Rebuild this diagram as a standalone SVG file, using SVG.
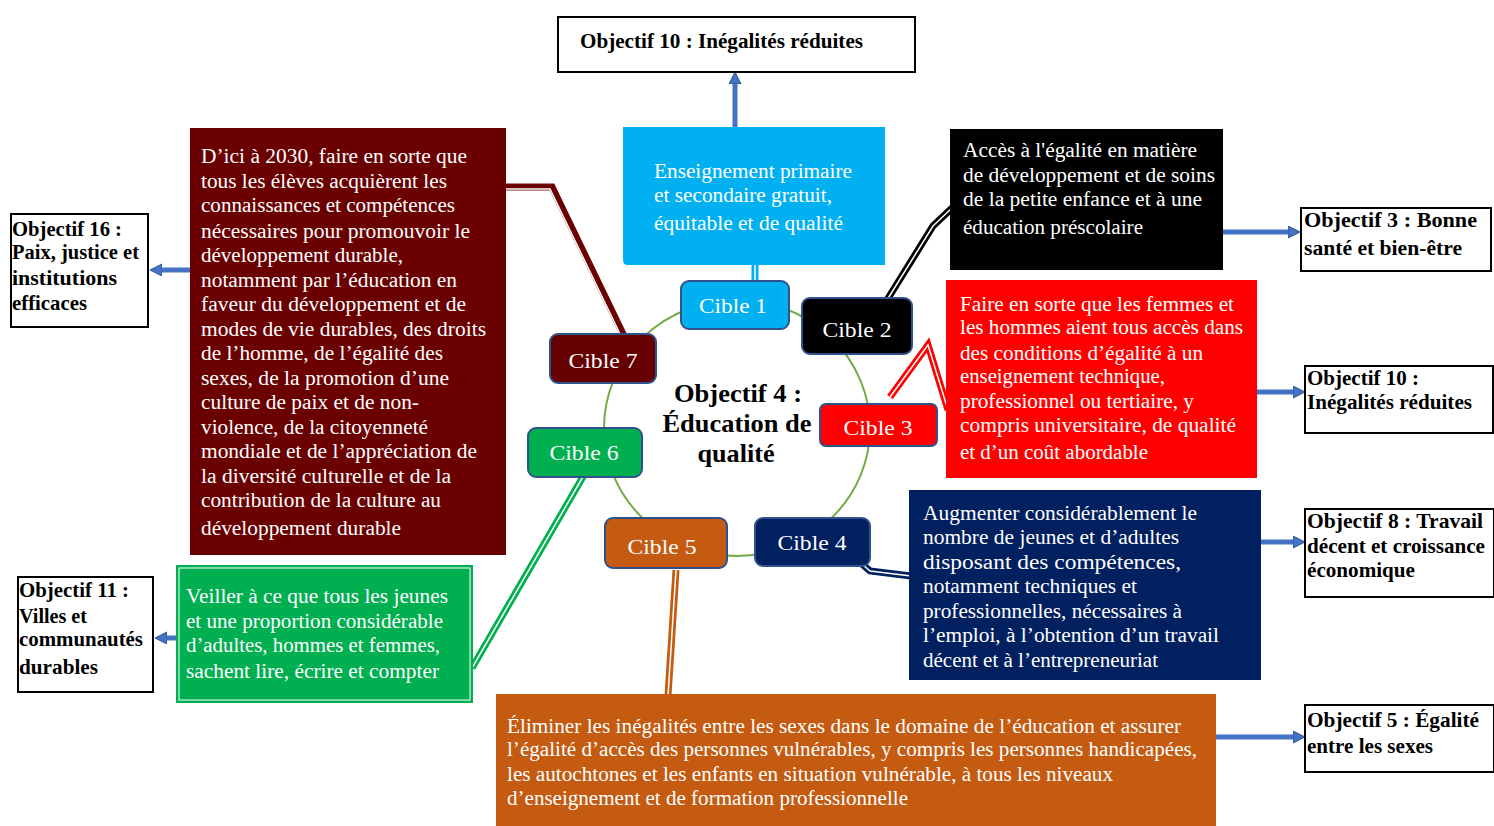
<svg xmlns="http://www.w3.org/2000/svg" width="1494" height="826" viewBox="0 0 1494 826">
<defs>
<marker id="ah" markerUnits="userSpaceOnUse" markerWidth="14" markerHeight="14" refX="2" refY="6" orient="auto">
<path d="M0,0 L12,6 L0,12 z" fill="#4472C4" stroke="#2F528F" stroke-width="1"/>
</marker>
<style>
text{font-family:"Liberation Serif","Times New Roman",serif}
.t{font-size:20px;fill:#fff}
.b{font-size:21px;font-weight:bold;fill:#000}
.c{font-size:22px;fill:#fff;text-anchor:middle}
.ctr{font-size:26px;font-weight:bold;fill:#000;text-anchor:middle}
.obj{fill:#fff;stroke:#000;stroke-width:2}
.cib{stroke:#2F528F;stroke-width:2}
.arr{stroke:#4472C4;stroke-width:5;fill:none;marker-end:url(#ah)}
.dw{fill:none;stroke:#fff;stroke-width:1.5}
</style>
</defs>
<rect width="1494" height="826" fill="#fff"/>

<ellipse cx="737" cy="428" rx="133" ry="128" fill="none" stroke="#70AD47" stroke-width="2"/>

<g id="connectors">
<line class="arr" x1="735" y1="127" x2="735" y2="82"/>
<line class="arr" x1="1223" y1="232" x2="1290" y2="232"/>
<line class="arr" x1="1257" y1="392" x2="1295" y2="392"/>
<line class="arr" x1="1261" y1="542" x2="1295" y2="542"/>
<line class="arr" x1="1216" y1="737" x2="1295" y2="737"/>
<line class="arr" x1="176" y1="638" x2="165" y2="638"/>
<line class="arr" x1="190" y1="270" x2="160" y2="270"/>

<path d="M755,262 L755,284" fill="none" stroke="#00B0F0" stroke-width="7"/>
<path class="dw" d="M755,262 L755,284"/>

<path d="M887,300 L933,226 L952,208" fill="none" stroke="#000" stroke-width="7"/>
<path class="dw" d="M887,300 L933,226 L952,208"/>

<path d="M890,397 L928,345 L948,410" fill="none" stroke="#FF0000" stroke-width="7"/>
<path class="dw" d="M890,397 L928,345 L948,410"/>

<path d="M862,564 L870,571 L911,576" fill="none" stroke="#002060" stroke-width="7"/>
<path class="dw" d="M862,564 L870,571 L911,576"/>

<path d="M676,570 L668,696" fill="none" stroke="#C55A11" stroke-width="7"/>
<path class="dw" d="M676,570 L668,696"/>

<path d="M584,475 L472,668" fill="none" stroke="#00B050" stroke-width="7"/>
<path class="dw" d="M584,475 L472,668"/>

<path d="M504,187 L552,187 L624,336" fill="none" stroke="#6B0000" stroke-width="7"/>
<path class="dw" d="M504,189 L550,189 L621,336"/>
</g>

<g id="obj10top">
<rect class="obj" x="558" y="17" width="357" height="55"/>
<text class="b" x="580" y="48" textLength="283" lengthAdjust="spacingAndGlyphs">Objectif 10 : Inégalités réduites</text>
</g>

<g id="cible1text">
<path d="M623,127 H885 V265 H628 Q623,265 623,260 Z" fill="#00B0F0"/>
<text class="t" x="654" y="178" textLength="198" lengthAdjust="spacingAndGlyphs">Enseignement primaire</text>
<text class="t" x="654" y="202" textLength="178" lengthAdjust="spacingAndGlyphs">et secondaire gratuit,</text>
<text class="t" x="654" y="230" textLength="189" lengthAdjust="spacingAndGlyphs">équitable et de qualité</text>
</g>

<g id="cible2text">
<rect x="950" y="129" width="273" height="141" fill="#000"/>
<text class="t" x="963" y="157" textLength="234" lengthAdjust="spacingAndGlyphs">Accès  à l'égalité en matière</text>
<text class="t" x="963" y="182" textLength="252" lengthAdjust="spacingAndGlyphs">de développement  et de soins</text>
<text class="t" x="963" y="206" textLength="239" lengthAdjust="spacingAndGlyphs">de la petite enfance  et à une</text>
<text class="t" x="963" y="234" textLength="180" lengthAdjust="spacingAndGlyphs">éducation préscolaire</text>
</g>

<g id="obj3">
<rect class="obj" x="1301" y="208" width="190" height="63"/>
<text class="b" x="1304" y="227" textLength="173" lengthAdjust="spacingAndGlyphs">Objectif 3 : Bonne</text>
<text class="b" x="1304" y="255" textLength="158" lengthAdjust="spacingAndGlyphs">santé et bien-être</text>
</g>

<g id="cible3text">
<rect x="946" y="280" width="311" height="198" fill="#FF0000"/>
<text class="t" x="960" y="311" textLength="274" lengthAdjust="spacingAndGlyphs">Faire en sorte que les femmes  et</text>
<text class="t" x="960" y="334" textLength="283" lengthAdjust="spacingAndGlyphs">les hommes aient tous accès  dans</text>
<text class="t" x="960" y="360" textLength="243" lengthAdjust="spacingAndGlyphs">des conditions d’égalité à un</text>
<text class="t" x="960" y="383" textLength="205" lengthAdjust="spacingAndGlyphs">enseignement technique,</text>
<text class="t" x="960" y="408" textLength="234" lengthAdjust="spacingAndGlyphs">professionnel  ou tertiaire,  y</text>
<text class="t" x="960" y="432" textLength="276" lengthAdjust="spacingAndGlyphs">compris universitaire, de qualité</text>
<text class="t" x="960" y="459" textLength="188" lengthAdjust="spacingAndGlyphs">et  d’un coût abordable</text>
</g>

<g id="obj10right">
<rect class="obj" x="1305" y="366" width="188" height="67"/>
<text class="b" x="1307" y="385" textLength="112" lengthAdjust="spacingAndGlyphs">Objectif 10 :</text>
<text class="b" x="1307" y="409" textLength="165" lengthAdjust="spacingAndGlyphs">Inégalités réduites</text>
</g>

<g id="cible4text">
<rect x="909" y="490" width="352" height="190" fill="#002060"/>
<text class="t" x="923" y="520" textLength="274" lengthAdjust="spacingAndGlyphs">Augmenter considérablement  le</text>
<text class="t" x="923" y="544" textLength="256" lengthAdjust="spacingAndGlyphs">nombre de jeunes et d’adultes</text>
<text class="t" x="923" y="569" textLength="258" lengthAdjust="spacingAndGlyphs">disposant des compétences,</text>
<text class="t" x="923" y="593" textLength="214" lengthAdjust="spacingAndGlyphs">notamment techniques  et</text>
<text class="t" x="923" y="618" textLength="259" lengthAdjust="spacingAndGlyphs">professionnelles,  nécessaires  à</text>
<text class="t" x="923" y="642" textLength="296" lengthAdjust="spacingAndGlyphs">l’emploi, à l’obtention d’un travail</text>
<text class="t" x="923" y="667" textLength="235" lengthAdjust="spacingAndGlyphs">décent  et à l’entrepreneuriat</text>
</g>

<g id="obj8">
<rect class="obj" x="1305" y="509" width="189" height="88"/>
<text class="b" x="1307" y="528" textLength="176" lengthAdjust="spacingAndGlyphs">Objectif 8 : Travail</text>
<text class="b" x="1307" y="553" textLength="178" lengthAdjust="spacingAndGlyphs">décent et croissance</text>
<text class="b" x="1307" y="577" textLength="108" lengthAdjust="spacingAndGlyphs">économique</text>
</g>

<g id="cible5text">
<rect x="496" y="694" width="720" height="132" fill="#C55A11"/>
<text class="t" x="507" y="733" textLength="674" lengthAdjust="spacingAndGlyphs">Éliminer les inégalités entre les sexes dans le domaine de l’éducation et assurer</text>
<text class="t" x="507" y="756" textLength="690" lengthAdjust="spacingAndGlyphs">l’égalité d’accès  des personnes vulnérables,  y compris les personnes handicapées,</text>
<text class="t" x="507" y="781" textLength="606" lengthAdjust="spacingAndGlyphs">les autochtones et les enfants  en situation vulnérable,  à tous les niveaux</text>
<text class="t" x="507" y="805" textLength="401" lengthAdjust="spacingAndGlyphs">d’enseignement et de formation  professionnelle</text>
</g>

<g id="obj5">
<rect class="obj" x="1305" y="705" width="189" height="67"/>
<text class="b" x="1307" y="727" textLength="172" lengthAdjust="spacingAndGlyphs">Objectif 5 : Égalité</text>
<text class="b" x="1307" y="753" textLength="126" lengthAdjust="spacingAndGlyphs">entre les sexes</text>
</g>

<g id="cible6text">
<rect x="176" y="565" width="297" height="138" fill="#00B050"/>
<rect x="179" y="568" width="291" height="132" fill="none" stroke="#fff" stroke-width="1"/>
<text class="t" x="186" y="603" textLength="262" lengthAdjust="spacingAndGlyphs">Veiller à ce que tous les jeunes</text>
<text class="t" x="186" y="628" textLength="257" lengthAdjust="spacingAndGlyphs">et une proportion considérable</text>
<text class="t" x="186" y="652" textLength="254" lengthAdjust="spacingAndGlyphs">d’adultes, hommes et femmes,</text>
<text class="t" x="186" y="678" textLength="253" lengthAdjust="spacingAndGlyphs">sachent lire, écrire et compter</text>
</g>

<g id="obj11">
<rect class="obj" x="18" y="577" width="135" height="115"/>
<text class="b" x="19" y="597" textLength="110" lengthAdjust="spacingAndGlyphs">Objectif 11 :</text>
<text class="b" x="19" y="623" textLength="68" lengthAdjust="spacingAndGlyphs">Villes et</text>
<text class="b" x="19" y="646" textLength="124" lengthAdjust="spacingAndGlyphs">communautés</text>
<text class="b" x="19" y="674" textLength="79" lengthAdjust="spacingAndGlyphs">durables</text>
</g>

<g id="cible7text">
<rect x="190" y="128" width="316" height="427" fill="#6B0000"/>
<text class="t" x="201" y="163" textLength="266" lengthAdjust="spacingAndGlyphs">D’ici à 2030, faire  en sorte que</text>
<text class="t" x="201" y="188" textLength="246" lengthAdjust="spacingAndGlyphs">tous les élèves acquièrent  les</text>
<text class="t" x="201" y="212" textLength="254" lengthAdjust="spacingAndGlyphs">connaissances  et compétences</text>
<text class="t" x="201" y="238" textLength="269" lengthAdjust="spacingAndGlyphs">nécessaires  pour promouvoir le</text>
<text class="t" x="201" y="262" textLength="202" lengthAdjust="spacingAndGlyphs">développement  durable,</text>
<text class="t" x="201" y="287" textLength="256" lengthAdjust="spacingAndGlyphs">notamment par  l’éducation en</text>
<text class="t" x="201" y="311" textLength="265" lengthAdjust="spacingAndGlyphs">faveur  du développement et de</text>
<text class="t" x="201" y="336" textLength="285" lengthAdjust="spacingAndGlyphs">modes de vie durables, des droits</text>
<text class="t" x="201" y="360" textLength="242" lengthAdjust="spacingAndGlyphs">de l’homme, de l’égalité des</text>
<text class="t" x="201" y="385" textLength="248" lengthAdjust="spacingAndGlyphs">sexes,  de la promotion d’une</text>
<text class="t" x="201" y="409" textLength="218" lengthAdjust="spacingAndGlyphs">culture de paix et de non-</text>
<text class="t" x="201" y="434" textLength="227" lengthAdjust="spacingAndGlyphs">violence,  de la citoyenneté</text>
<text class="t" x="201" y="458" textLength="276" lengthAdjust="spacingAndGlyphs">mondiale et de l’appréciation de</text>
<text class="t" x="201" y="483" textLength="250" lengthAdjust="spacingAndGlyphs">la diversité culturelle et de la</text>
<text class="t" x="201" y="507" textLength="240" lengthAdjust="spacingAndGlyphs">contribution de la culture au</text>
<text class="t" x="201" y="535" textLength="200" lengthAdjust="spacingAndGlyphs">développement  durable</text>
</g>

<g id="obj16">
<rect class="obj" x="11" y="214" width="137" height="113"/>
<text class="b" x="12" y="236" textLength="110" lengthAdjust="spacingAndGlyphs">Objectif 16 :</text>
<text class="b" x="12" y="259" textLength="127" lengthAdjust="spacingAndGlyphs">Paix, justice et</text>
<text class="b" x="12" y="285" textLength="105" lengthAdjust="spacingAndGlyphs">institutions</text>
<text class="b" x="12" y="310" textLength="75" lengthAdjust="spacingAndGlyphs">efficaces</text>
</g>

<g id="center">
<text class="ctr" x="738" y="402" textLength="128" lengthAdjust="spacingAndGlyphs">Objectif 4 :</text>
<text class="ctr" x="737" y="432" textLength="149" lengthAdjust="spacingAndGlyphs">Éducation de</text>
<text class="ctr" x="736" y="462" textLength="77" lengthAdjust="spacingAndGlyphs">qualité</text>
</g>

<g id="cible1"><rect class="cib" x="681" y="281" width="108" height="48" rx="8" fill="#00B0F0"/><text class="c" x="733" y="313" textLength="68" lengthAdjust="spacingAndGlyphs">Cible 1</text></g>
<g id="cible2"><rect class="cib" x="802" y="298" width="110" height="56" rx="8" fill="#000"/><text class="c" x="857" y="337" textLength="69" lengthAdjust="spacingAndGlyphs">Cible 2</text></g>
<g id="cible3"><rect class="cib" x="820" y="404" width="117" height="42" rx="6" fill="#FF0000" stroke="#FF0000"/><text class="c" x="878" y="435" textLength="69" lengthAdjust="spacingAndGlyphs">Cible 3</text></g>
<g id="cible4"><rect class="cib" x="755" y="518" width="115" height="48" rx="8" fill="#002060"/><text class="c" x="812" y="550" textLength="69" lengthAdjust="spacingAndGlyphs">Cible 4</text></g>
<g id="cible5"><rect class="cib" x="605" y="518" width="122" height="50" rx="8" fill="#C55A11"/><text class="c" x="662" y="554" textLength="69" lengthAdjust="spacingAndGlyphs">Cible 5</text></g>
<g id="cible6"><rect class="cib" x="528" y="428" width="114" height="49" rx="8" fill="#00B050"/><text class="c" x="584" y="460" textLength="69" lengthAdjust="spacingAndGlyphs">Cible 6</text></g>
<g id="cible7"><rect class="cib" x="550" y="334" width="106" height="49" rx="8" fill="#660000"/><text class="c" x="603" y="368" textLength="69" lengthAdjust="spacingAndGlyphs">Cible 7</text></g>
</svg>
